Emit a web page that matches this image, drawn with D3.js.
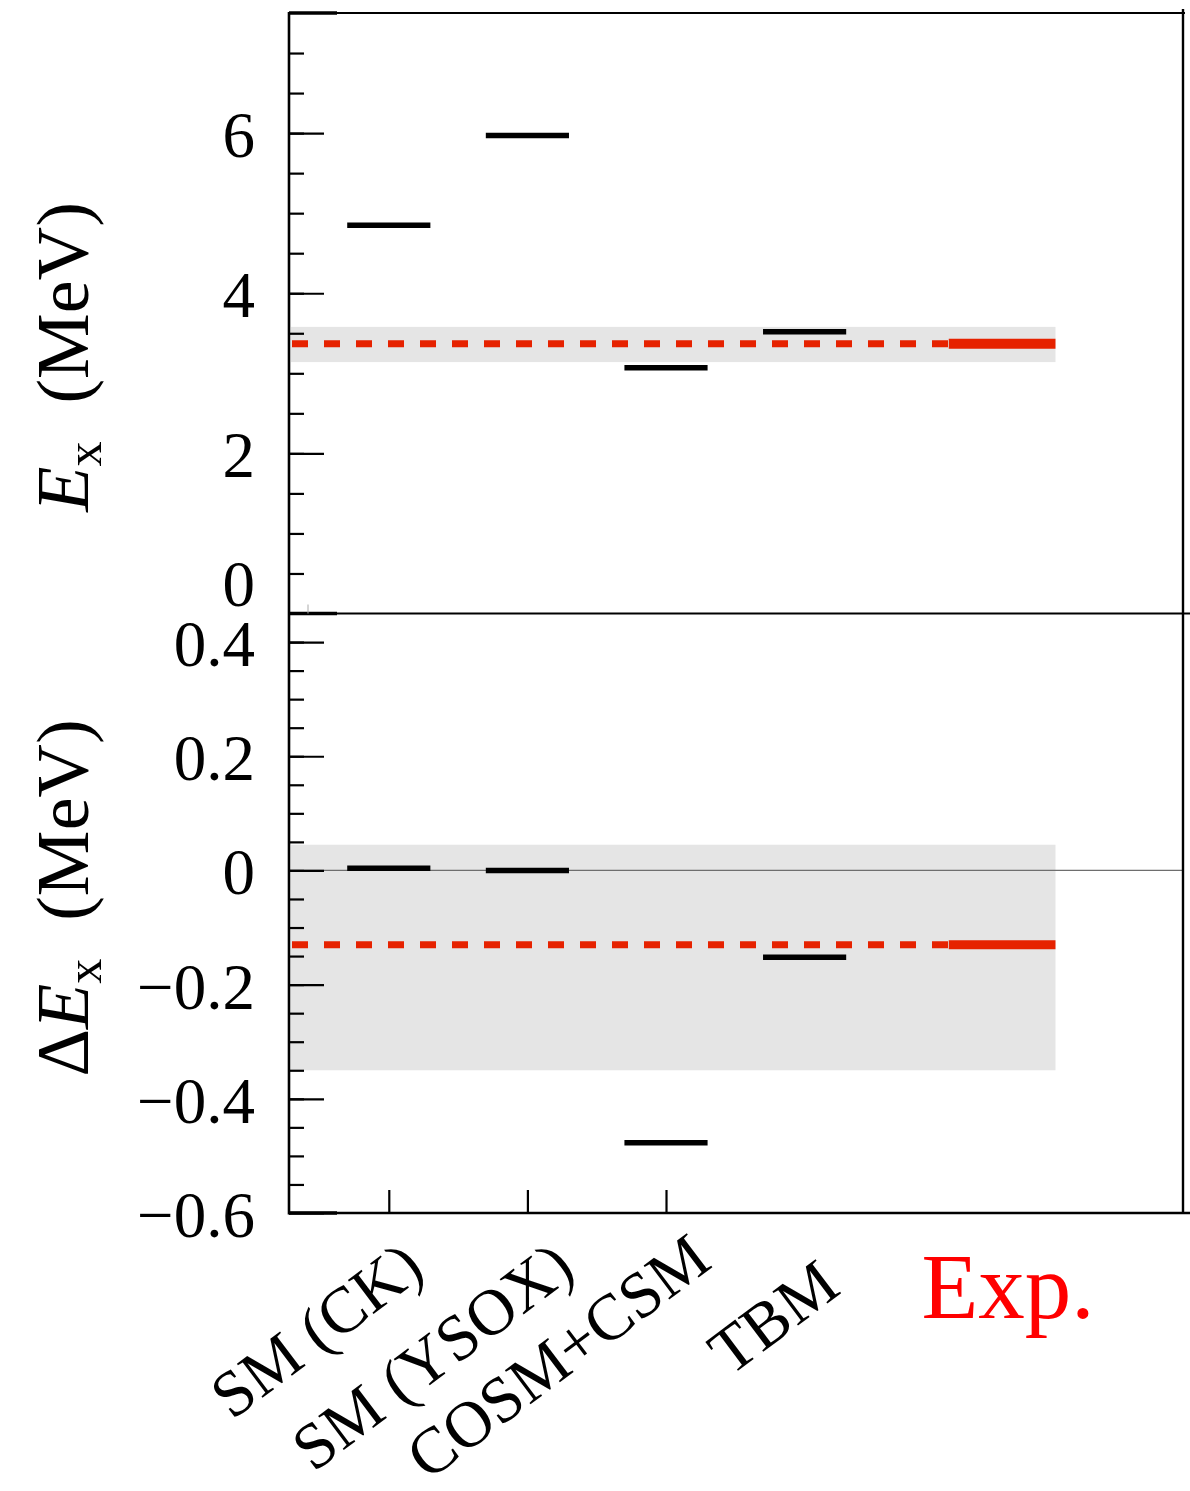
<!DOCTYPE html>
<html>
<head>
<meta charset="utf-8">
<script src="https://cdn.jsdelivr.net/npm/d3@7"></script>
<style>
  html, body { margin: 0; padding: 0; background: #fff; }
  svg { display: block; }
  text { font-family: "Liberation Serif", "DejaVu Serif", serif; }
</style>
</head>
<body>
<svg id="chart" width="1190" height="1491"></svg>
<script>
// Model calculations of the excitation energy and its shift
const categories = ["SM (CK)", "SM (YSOX)", "COSM+CSM", "TBM"];
const categoryPos = [1, 2, 3, 4];
const excitation = [4.85, 5.97, 3.07, 3.52];      // E_x (MeV)
const shift = [0.004, 0.0, -0.477, -0.152];       // ΔE_x (MeV)

// Measured values with their uncertainty ranges
const expLabel = "Exp.";
const expExcitation = 3.37;
const expExcitationRange = [3.14, 3.58];
const expShift = -0.13;
const expShiftRange = [-0.35, 0.045];

// Axis ticks
const topMajor = [0, 2, 4, 6];
const topMajorLabels = ["0", "2", "4", "6"];
const topMinor = d3.range(0.5, 7.5, 0.5);
const botMajor = [-0.6, -0.4, -0.2, 0, 0.2, 0.4];
const botMajorLabels = ["\u22120.6", "\u22120.4", "\u22120.2", "0", "0.2", "0.4"];
const botMinor = d3.range(-0.55, 0.45, 0.05);
const xTicks = [1, 2, 3];

(function draw() {
  const RED = "#e62200";
  const BAND = "#e5e5e5";

  const svg = d3.select("#chart");

  const pl = 289, pr = 1183, pt = 13, pm = 613.5, pb = 1213;
  const x = d3.scaleLinear().domain([0.28, 6.73]).range([pl, pr]);
  const yTop = d3.scaleLinear().domain([0, 7.5]).range([pm, pt]);
  const yBot = d3.scaleLinear().domain([-0.6, 0.45]).range([pb, pm]);

  const expCol = [5.04, 5.81];   // horizontal extent of the measured-value bar
  const halfW = 0.3;             // half width of model bars

  function band(y, range) {
    const g = svg.append("g");
    g.append("rect")
      .attr("x", pl + 2)
      .attr("y", y(range[1]))
      .attr("width", x(expCol[1]) - pl - 2)
      .attr("height", y(range[0]) - y(range[1]))
      .attr("fill", BAND);
    return g;
  }

  const gTop = band(yTop, expExcitationRange);
  const gBot = band(yBot, expShiftRange);

  // zero reference line in the lower panel
  gBot.append("line")
    .attr("x1", pl).attr("x2", pr)
    .attr("y1", yBot(0)).attr("y2", yBot(0))
    .attr("stroke", "#6e6e6e").attr("stroke-width", 1.3);

  function drawMarks(g, y, vals, expVal, expWidth) {
    // measured value: dashed across the models, solid in its own column
    g.append("line")
      .attr("x1", pl + 3).attr("x2", x(expCol[0]))
      .attr("y1", y(expVal)).attr("y2", y(expVal))
      .attr("stroke", RED).attr("stroke-width", 7)
      .attr("stroke-dasharray", "16,16");
    g.append("line")
      .attr("x1", x(expCol[0])).attr("x2", x(expCol[1]))
      .attr("y1", y(expVal)).attr("y2", y(expVal))
      .attr("stroke", RED).attr("stroke-width", expWidth);

    // model values
    g.selectAll("line.model")
      .data(vals)
      .join("line")
      .attr("class", "model")
      .attr("x1", (d, i) => x(categoryPos[i] - halfW))
      .attr("x2", (d, i) => x(categoryPos[i] + halfW))
      .attr("y1", d => y(d)).attr("y2", d => y(d))
      .attr("stroke", "#000").attr("stroke-width", 5.5);
  }
  drawMarks(gTop, yTop, excitation, expExcitation, 10);
  drawMarks(gBot, yBot, shift, expShift, 9);

  // ---------- axes ----------
  function yAxis(y, major, labels, minor) {
    const gMinor = svg.append("g").attr("transform", `translate(${pl},0)`)
      .call(d3.axisLeft(y).tickValues(minor).tickSizeInner(-15).tickSizeOuter(0).tickFormat(""));
    gMinor.select(".domain").remove();
    gMinor.selectAll(".tick line").attr("stroke", "#000").attr("stroke-width", 2.2);

    const gMajor = svg.append("g").attr("transform", `translate(${pl},0)`)
      .call(d3.axisLeft(y).tickValues(major).tickSizeInner(-35).tickSizeOuter(0)
        .tickPadding(34).tickFormat((d, i) => labels[i]));
    gMajor.select(".domain").remove();
    gMajor.selectAll(".tick line").attr("stroke", "#000").attr("stroke-width", 2.2);
    gMajor.selectAll(".tick text")
      .attr("font-family", "Liberation Serif, serif")
      .attr("font-size", 65)
      .attr("fill", "#000")
      .attr("dy", "0.36em");
    return gMajor;
  }
  const topAxis = yAxis(yTop, topMajor, topMajorLabels, topMinor);
  // the zero label of the upper panel sits higher to clear the lower panel
  topAxis.selectAll(".tick text").filter(d => d === 0).attr("dy", "-0.12em");
  yAxis(yBot, botMajor, botMajorLabels, botMinor);

  // category ticks along the bottom
  const xAxisG = svg.append("g").attr("transform", `translate(0,${pb})`)
    .call(d3.axisBottom(x).tickValues(xTicks).tickSizeInner(-23).tickSizeOuter(0).tickFormat(""));
  xAxisG.select(".domain").remove();
  xAxisG.selectAll(".tick line").attr("stroke", "#000").attr("stroke-width", 2.2);

  // frame
  const frame = svg.append("g").attr("stroke", "#000").attr("fill", "none");
  frame.append("line").attr("x1", pl).attr("x2", pl).attr("y1", pt - 1).attr("y2", pb + 1.5).attr("stroke-width", 2.6);
  frame.append("line").attr("x1", pl).attr("x2", pr + 2).attr("y1", pt).attr("y2", pt).attr("stroke-width", 2);
  frame.append("line").attr("x1", pr).attr("x2", pr).attr("y1", pt - 4).attr("y2", pb).attr("stroke-width", 2.4);
  frame.append("line").attr("x1", pl).attr("x2", 1190).attr("y1", pm).attr("y2", pm).attr("stroke-width", 2);
  frame.append("line").attr("x1", pl).attr("x2", 1190).attr("y1", pb).attr("y2", pb).attr("stroke-width", 2.5);
  // heavier corner marks at the panel edges
  [pt, pm, pb].forEach(yy => {
    frame.append("line").attr("x1", pl).attr("x2", pl + 48).attr("y1", yy).attr("y2", yy).attr("stroke-width", 3.4);
  });
  frame.append("line").attr("x1", 308).attr("x2", 308).attr("y1", pm - 9).attr("y2", pm)
    .attr("stroke", "#aaa").attr("stroke-width", 1);

  // ---------- axis titles ----------
  function yTitle(cx, cy, withDelta) {
    const t = svg.append("text")
      .attr("transform", `translate(${cx},${cy}) rotate(-90)`)
      .attr("text-anchor", "middle")
      .attr("font-size", 74)
      .attr("fill", "#000");
    if (withDelta) t.append("tspan").text("\u0394");
    t.append("tspan").attr("font-style", "italic").text("E");
    t.append("tspan").attr("font-size", 50).attr("dy", 13).text("x");
    t.append("tspan").attr("dy", -13).attr("dx", 38).text("(MeV)");
  }
  yTitle(88, 357, false);
  yTitle(88, 898, true);

  // ---------- category labels ----------
  // end point of each slanted label, relative to its tick
  const labelShift = [[38, 1274], [50, 1274], [48, 1266], [38, 1292]];
  svg.append("g").selectAll("text")
    .data(categories)
    .join("text")
    .attr("transform", (d, i) =>
      `translate(${x(categoryPos[i]) + labelShift[i][0]},${labelShift[i][1]}) rotate(-37)`)
    .attr("text-anchor", "end")
    .attr("font-size", 65)
    .attr("fill", "#000")
    .text(d => d);

  svg.append("text")
    .attr("x", 1008).attr("y", 1318)
    .attr("text-anchor", "middle")
    .attr("font-size", 93)
    .attr("fill", "#ff0000")
    .text(expLabel);
})();
</script>
</body>
</html>
